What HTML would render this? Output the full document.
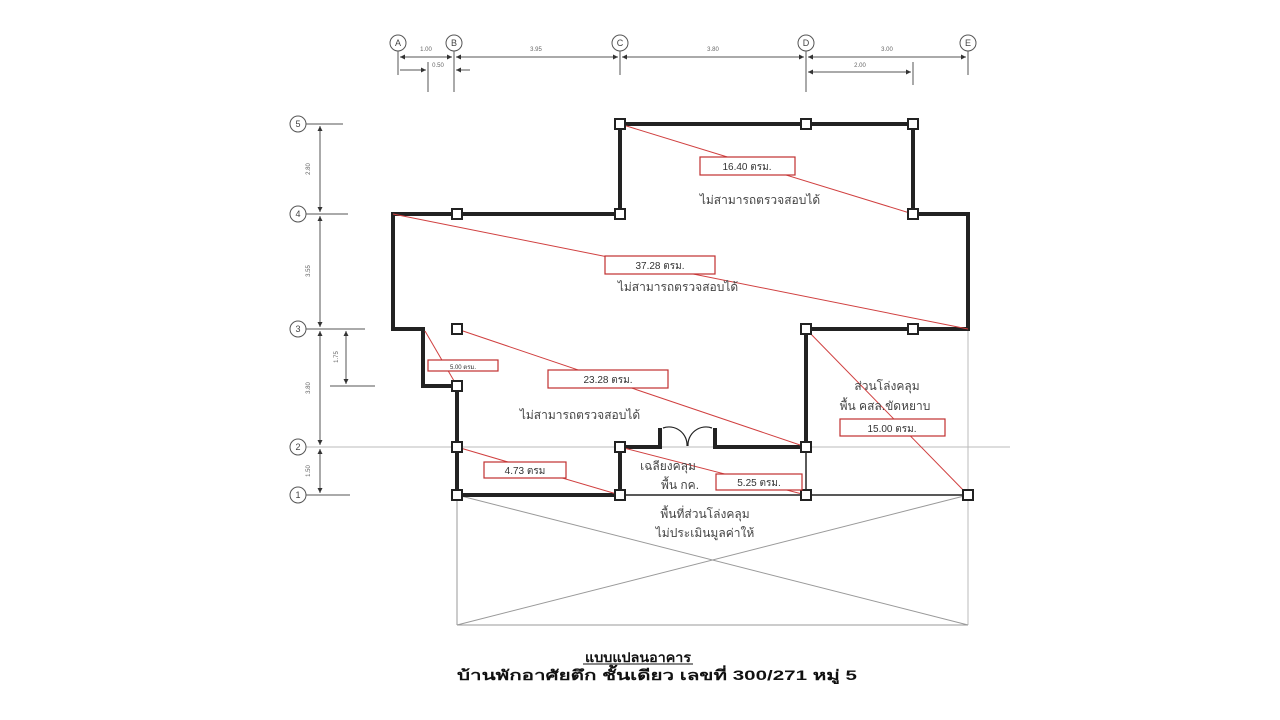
<!DOCTYPE html>
<html><head><meta charset="utf-8"><style>
html,body{margin:0;padding:0;background:#fff;width:1280px;height:720px;overflow:hidden}
svg{display:block}
text{font-family:"Liberation Sans","DejaVu Sans",sans-serif}
</style></head><body>
<svg width="1280" height="720" viewBox="0 0 1280 720" xmlns="http://www.w3.org/2000/svg">
<defs>
<marker id="ar" viewBox="0 0 10 10" refX="10" refY="5" markerWidth="5" markerHeight="5" orient="auto-start-reverse"><path d="M0,0L10,5L0,10z" fill="#333"/></marker>
</defs>
<g stroke="#bbb" stroke-width="1" fill="none">
<line x1="290" y1="447" x2="1010" y2="447"/>
<line x1="968" y1="329" x2="968" y2="625"/>
</g>
<g stroke="#555" stroke-width="1" fill="none">
<line x1="398" y1="51" x2="398" y2="75"/><line x1="454" y1="51" x2="454" y2="92"/>
<line x1="428" y1="62" x2="428" y2="92"/>
<line x1="620" y1="51" x2="620" y2="75"/><line x1="806" y1="51" x2="806" y2="92"/>
<line x1="913" y1="62" x2="913" y2="85"/><line x1="968" y1="51" x2="968" y2="75"/>
<line x1="400" y1="57" x2="452" y2="57" marker-start="url(#ar)" marker-end="url(#ar)"/>
<line x1="456" y1="57" x2="618" y2="57" marker-start="url(#ar)" marker-end="url(#ar)"/>
<line x1="622" y1="57" x2="804" y2="57" marker-start="url(#ar)" marker-end="url(#ar)"/>
<line x1="808" y1="57" x2="966" y2="57" marker-start="url(#ar)" marker-end="url(#ar)"/>
<line x1="808" y1="72" x2="911" y2="72" marker-start="url(#ar)" marker-end="url(#ar)"/>
<line x1="400" y1="70" x2="426" y2="70" marker-end="url(#ar)"/>
<line x1="470" y1="70" x2="456" y2="70" marker-end="url(#ar)"/>
</g>
<g font-size="6" fill="#666" text-anchor="middle">
<text x="426" y="51">1.00</text><text x="438" y="67">0.50</text><text x="536" y="51">3.95</text>
<text x="713" y="51">3.80</text><text x="887" y="51">3.00</text><text x="860" y="67">2.00</text>
</g>
<g fill="#fff" stroke="#555" stroke-width="1">
<circle cx="398" cy="43" r="8"/><circle cx="454" cy="43" r="8"/><circle cx="620" cy="43" r="8"/><circle cx="806" cy="43" r="8"/><circle cx="968" cy="43" r="8"/>
<circle cx="298" cy="124" r="8"/><circle cx="298" cy="214" r="8"/><circle cx="298" cy="329" r="8"/><circle cx="298" cy="447" r="8"/><circle cx="298" cy="495" r="8"/>
</g>
<g font-size="9" fill="#444" text-anchor="middle">
<text x="398" y="46">A</text><text x="454" y="46">B</text><text x="620" y="46">C</text><text x="806" y="46">D</text><text x="968" y="46">E</text>
<text x="298" y="127">5</text><text x="298" y="217">4</text><text x="298" y="332">3</text><text x="298" y="450">2</text><text x="298" y="498">1</text>
</g>
<g stroke="#555" stroke-width="1" fill="none">
<line x1="306" y1="124" x2="343" y2="124"/><line x1="306" y1="214" x2="348" y2="214"/>
<line x1="306" y1="329" x2="365" y2="329"/><line x1="330" y1="386" x2="375" y2="386"/>
<line x1="306" y1="495" x2="350" y2="495"/>
<line x1="320" y1="126" x2="320" y2="212" marker-start="url(#ar)" marker-end="url(#ar)"/>
<line x1="320" y1="216" x2="320" y2="327" marker-start="url(#ar)" marker-end="url(#ar)"/>
<line x1="320" y1="331" x2="320" y2="445" marker-start="url(#ar)" marker-end="url(#ar)"/>
<line x1="320" y1="449" x2="320" y2="493" marker-start="url(#ar)" marker-end="url(#ar)"/>
<line x1="346" y1="331" x2="346" y2="384" marker-start="url(#ar)" marker-end="url(#ar)"/>
</g>
<g font-size="6" fill="#666" text-anchor="middle">
<text transform="translate(310,169) rotate(-90)">2.80</text>
<text transform="translate(310,271) rotate(-90)">3.55</text>
<text transform="translate(310,388) rotate(-90)">3.80</text>
<text transform="translate(310,471) rotate(-90)">1.50</text>
<text transform="translate(338,357) rotate(-90)">1.75</text>
</g>
<g stroke="#999" stroke-width="1" fill="none">
<line x1="457" y1="495" x2="457" y2="625"/><line x1="457" y1="625" x2="968" y2="625"/>
<line x1="457" y1="495" x2="968" y2="625"/><line x1="968" y1="495" x2="457" y2="625"/>
</g>
<g stroke="#222" stroke-width="1.5" fill="none">
<line x1="620" y1="495" x2="968" y2="495"/>
<line x1="806" y1="447" x2="806" y2="495"/>
</g>
<g stroke="#222" stroke-width="4" fill="none" stroke-linejoin="miter">
<polyline points="620,214 620,124 913,124 913,214 968,214 968,329 806,329 806,447 715,447 715,428"/>
<polyline points="660,428 660,447 620,447 620,495 457,495 457,386 423,386 423,329 393,329 393,214 620,214"/>
</g>
<g stroke="#222" stroke-width="1.2" fill="none">
<path d="M663,428 A18,18 0 0 1 687,446"/><path d="M712,428 A18,18 0 0 0 688,446"/>
</g>
<g stroke="#d04040" stroke-width="1" fill="none">
<line x1="620" y1="124" x2="913" y2="214"/>
<line x1="393" y1="214" x2="968" y2="329"/>
<line x1="457" y1="329" x2="806" y2="447"/>
<line x1="425" y1="331" x2="457" y2="386"/>
<line x1="457" y1="447" x2="620" y2="495"/>
<line x1="620" y1="447" x2="806" y2="495"/>
<line x1="806" y1="329" x2="968" y2="495"/>
</g>
<g fill="#fff" stroke="#222" stroke-width="2">
<rect x="615" y="119" width="10" height="10"/><rect x="801" y="119" width="10" height="10"/><rect x="908" y="119" width="10" height="10"/>
<rect x="452" y="209" width="10" height="10"/><rect x="615" y="209" width="10" height="10"/><rect x="908" y="209" width="10" height="10"/>
<rect x="452" y="324" width="10" height="10"/><rect x="801" y="324" width="10" height="10"/><rect x="908" y="324" width="10" height="10"/>
<rect x="452" y="381" width="10" height="10"/><rect x="452" y="442" width="10" height="10"/><rect x="615" y="442" width="10" height="10"/><rect x="801" y="442" width="10" height="10"/>
<rect x="452" y="490" width="10" height="10"/><rect x="615" y="490" width="10" height="10"/><rect x="801" y="490" width="10" height="10"/><rect x="963" y="490" width="10" height="10"/>
</g>
<g fill="#fff" stroke="#c03030" stroke-width="1.2">
<rect x="700" y="157" width="95" height="18"/><rect x="605" y="256" width="110" height="18"/>
<rect x="548" y="370" width="120" height="18"/><rect x="428" y="360" width="70" height="11"/>
<rect x="484" y="462" width="82" height="16"/><rect x="716" y="474" width="86" height="16"/>
<rect x="840" y="419" width="105" height="17"/>
</g>
<g font-size="10" fill="#333" text-anchor="middle">
<text x="747" y="170">16.40 ตรม.</text><text x="660" y="269">37.28 ตรม.</text>
<text x="608" y="383">23.28 ตรม.</text><text x="463" y="369" font-size="6">5.00 ตรม.</text>
<text x="525" y="474">4.73 ตรม</text><text x="759" y="486">5.25 ตรม.</text>
<text x="892" y="432">15.00 ตรม.</text>
</g>
<g font-size="12" fill="#444" text-anchor="middle">
<text x="760" y="204">ไม่สามารถตรวจสอบได้</text>
<text x="678" y="291">ไม่สามารถตรวจสอบได้</text>
<text x="580" y="419">ไม่สามารถตรวจสอบได้</text>
<text x="887" y="390">ส่วนโล่งคลุม</text>
<text x="885" y="410">พื้น คสล.ขัดหยาบ</text>
<text x="668" y="470">เฉลียงคลุม</text>
<text x="680" y="489">พื้น กค.</text>
<text x="705" y="518">พื้นที่ส่วนโล่งคลุม</text>
<text x="705" y="537">ไม่ประเมินมูลค่าให้</text>
</g>
<g font-size="13" font-weight="bold" fill="#111">
<text x="585" y="662" textLength="106" lengthAdjust="spacingAndGlyphs">แบบแปลนอาคาร</text>
<line x1="583" y1="664" x2="693" y2="664" stroke="#111" stroke-width="1"/>
<text x="457" y="680" font-size="14" textLength="400" lengthAdjust="spacingAndGlyphs">บ้านพักอาศัยตึก ชั้นเดียว เลขที่ 300/271 หมู่ 5</text>
</g>
</svg>
</body></html>
